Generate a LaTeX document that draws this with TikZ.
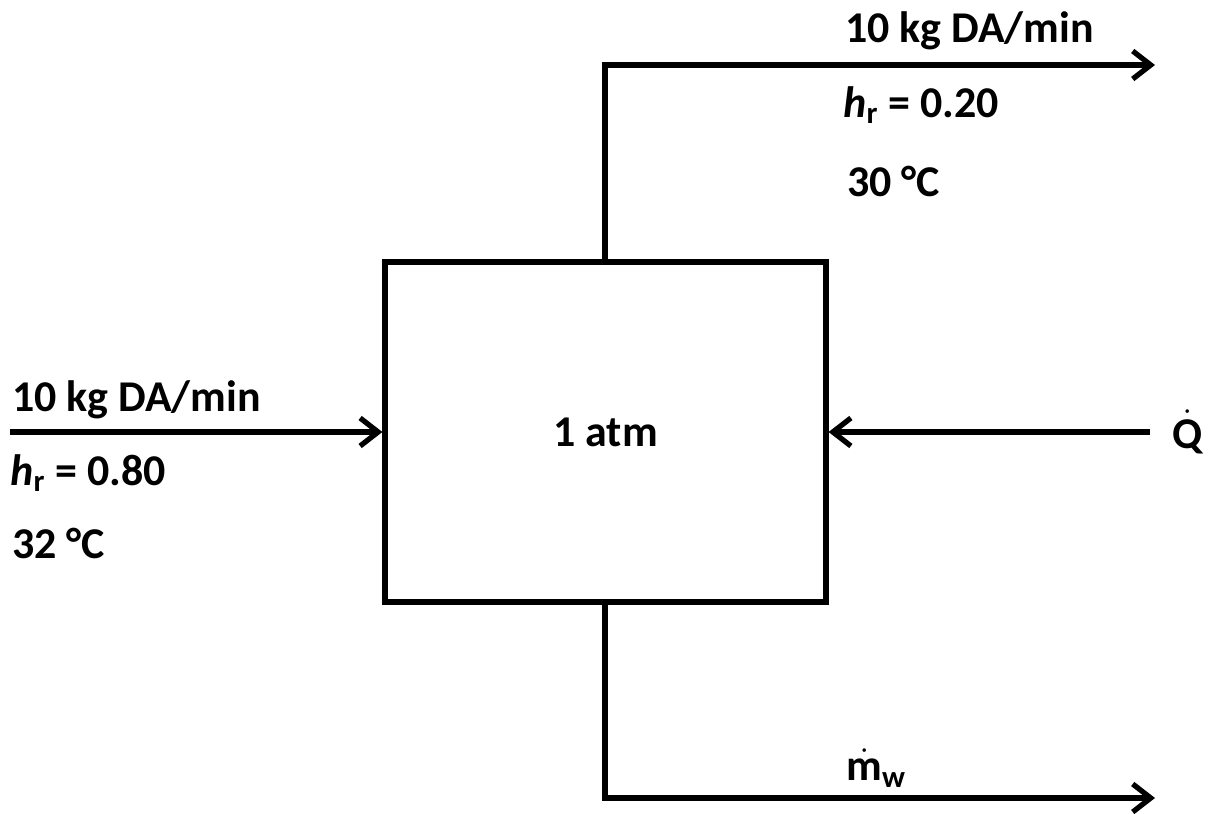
\documentclass[tikz,border=0pt]{standalone}
\usepackage{amsmath}
\usepackage{fontspec}
\setmainfont{Carlito}
\usetikzlibrary{arrows.meta}

\tikzset{
  flow/.style={line width=3pt, -{Straight Barb[length=3.6mm,width=5.6mm,line width=3pt]}},
  lbl/.style={anchor=west, inner sep=0pt, font=\fontsize{25}{30}\selectfont\bfseries},
}

\begin{document}
\begin{tikzpicture}[x=0.02cm,y=-0.02cm]
    \useasboundingbox (0,0) rectangle (1211,814);

    %unit
    \node [draw, line width=3pt, minimum width=8.82cm, minimum height=6.8cm,
           font=\fontsize{25}{30}\selectfont\bfseries] (unit) at (605.5,432) {1 atm};

    %air out
    \coordinate (topbend) at (605,65);
    \coordinate (airout) at (1155,65);
    \draw [flow] (unit.north -| topbend) -- (topbend) -- (airout);
    \node [lbl] (outrate) at (845,31) {10 kg DA/min};
    \node [lbl] (outhum) at (843,105) {\textit{h}$_\text{r}$ = 0.20};
    \node [lbl] (outtemp) at (847,181) {30 °C};

    %air in
    \coordinate (airin) at (10,432);
    \draw [flow] (airin) -- (unit.west);
    \node [lbl] (inrate) at (12,400) {10 kg DA/min};
    \node [lbl] (inhum) at (10,473) {\textit{h}$_\text{r}$ = 0.80};
    \node [lbl] (intemp) at (12,543) {32 °C};

    %heat
    \node [lbl] (heat) at (1172,432) {$\dot{\text{Q}}$};
    \coordinate (heatin) at (1150,432);
    \draw [flow] (heatin) -- (unit.east);

    %water
    \coordinate (botbend) at (605,798);
    \coordinate (waterout) at (1155,798);
    \draw [flow] (unit.south -| botbend) -- (botbend) -- (waterout);
    \node [lbl] (water) at (846,768) {$\dot{\text{m}}_\text{w}$};

\end{tikzpicture}
\end{document}
